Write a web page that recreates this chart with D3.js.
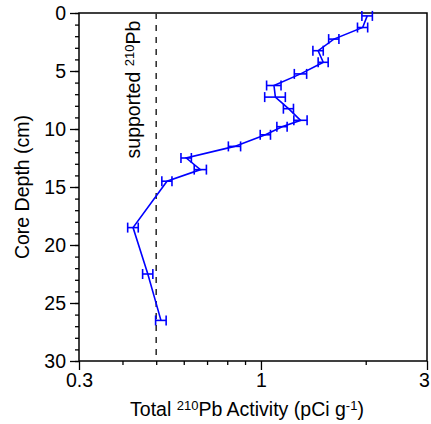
<!DOCTYPE html>
<html><head><meta charset="utf-8">
<script src="https://cdn.jsdelivr.net/npm/d3@7"></script>
<style>body{margin:0;background:#fff}svg{display:block}text{font-family:"Liberation Sans",Arial,Helvetica,sans-serif}</style>
</head><body>
<svg id="c" width="431" height="424"></svg>
<script>
const depths = [0.25, 1.25, 2.25, 3.25, 4.25, 5.25, 6.25, 7.25, 8.25, 9.25, 9.8, 10.5, 11.5, 12.5, 13.5, 14.5, 18.5, 22.5, 26.5];
const activity = [2.02, 1.96, 1.62, 1.46, 1.51, 1.30, 1.09, 1.10, 1.20, 1.30, 1.15, 1.03, 0.84, 0.61, 0.67, 0.537, 0.429, 0.473, 0.516];
const activityErr = [0.07, 0.066, 0.055, 0.05, 0.05, 0.053, 0.052, 0.075, 0.04, 0.057, 0.039, 0.035, 0.034, 0.021, 0.027, 0.018, 0.015, 0.016, 0.018];
const supported = 0.5;
const xMajorTicks = [0.3, 1, 3];
const xMinorTicks = [0.4, 0.5, 0.6, 0.7, 0.8, 0.9, 2];
const yMajorTicks = [0, 5, 10, 15, 20, 25, 30];
const yMinorTicks = d3.range(0, 31, 1);

const svg = d3.select("#c");
const L = 79, R = 427, T = 13, B = 361;
const x = d3.scaleLog().domain([0.3, 3]).range([L, R]);
const y = d3.scaleLinear().domain([0, 30]).range([T, B]);
const FS = 19.5;
const SUP = 13;

// axes
const xAxisMinor = d3.axisBottom(x).tickValues(xMinorTicks).tickSize(4).tickFormat("");
const xAxisMajor = d3.axisBottom(x).tickValues(xMajorTicks).tickSize(9).tickPadding(3).tickFormat(d3.format("~g"));
const yAxisMinor = d3.axisLeft(y).tickValues(yMinorTicks).tickSize(4).tickFormat("");
const yAxisMajor = d3.axisLeft(y).tickValues(yMajorTicks).tickSize(9).tickPadding(4);

function style(g){
  g.select(".domain").remove();
  g.selectAll("line").attr("stroke","#000").attr("stroke-width",1.3);
  g.selectAll("text").attr("font-size",FS).attr("fill","#000").attr("font-family",'"Liberation Sans",Arial,sans-serif');
}
svg.append("g").attr("transform",`translate(0,${B})`).call(xAxisMinor).call(style);
svg.append("g").attr("transform",`translate(0,${B})`).call(xAxisMajor).call(style)
  .selectAll(".tick text").filter(d => d === 3).attr("dx", -3);
svg.append("g").attr("transform",`translate(${L},0)`).call(yAxisMinor).call(style);
svg.append("g").attr("transform",`translate(${L},0)`).call(yAxisMajor).call(style);

// frame
svg.append("rect").attr("x",L).attr("y",T).attr("width",R-L).attr("height",B-T)
  .attr("fill","none").attr("stroke","#000").attr("stroke-width",1.5);

// supported line
svg.append("line").attr("x1",x(supported)).attr("x2",x(supported)).attr("y1",y(0)).attr("y2",y(30))
  .attr("stroke","#333").attr("stroke-width",1.6).attr("stroke-dasharray","6,6");

const sup = svg.append("text").attr("transform",`translate(${x(supported)-16},${y(6.6)}) rotate(-90)`)
  .attr("text-anchor","middle").attr("font-size",FS).attr("fill","#000");
sup.append("tspan").text("supported ");
sup.append("tspan").attr("font-size",SUP).attr("baseline-shift","45%").text("210");
sup.append("tspan").text("Pb");

// data
const pts = depths.map((d,i)=>({d, v:activity[i], e:activityErr[i]}));
svg.append("path").datum(pts)
  .attr("d", d3.line().x(p=>x(p.v)).y(p=>y(p.d)))
  .attr("fill","none").attr("stroke","#0000ff").attr("stroke-width",1.6);
const eb = svg.append("g").attr("stroke","#0000ff").attr("stroke-width",1.6);
pts.forEach(p=>{
  const x0 = x(p.v-p.e), x1 = x(p.v+p.e), yy = y(p.d);
  eb.append("line").attr("x1",x0).attr("x2",x1).attr("y1",yy).attr("y2",yy);
  eb.append("line").attr("x1",x0).attr("x2",x0).attr("y1",yy-5).attr("y2",yy+5);
  eb.append("line").attr("x1",x1).attr("x2",x1).attr("y1",yy-5).attr("y2",yy+5);
});

// axis titles
const xt = svg.append("text").attr("x",(L+R)/2 - 6).attr("y",416).attr("text-anchor","middle")
  .attr("font-size",FS).attr("fill","#000");
xt.append("tspan").text("Total ");
xt.append("tspan").attr("font-size",SUP).attr("baseline-shift","45%").text("210");
xt.append("tspan").text("Pb Activity (pCi g");
xt.append("tspan").attr("font-size",SUP).attr("baseline-shift","45%").text("-1");
xt.append("tspan").text(")");

svg.append("text").attr("transform",`translate(29,${(T+B)/2}) rotate(-90)`).attr("text-anchor","middle")
  .attr("font-size",FS).attr("fill","#000").text("Core Depth (cm)");
</script>
</body></html>
